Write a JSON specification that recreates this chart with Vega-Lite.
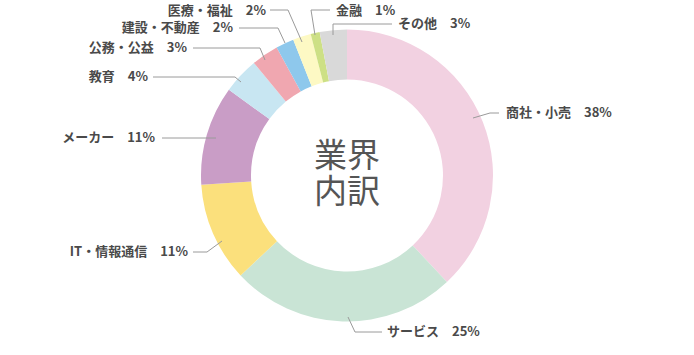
{
  "$schema": "https://vega.github.io/schema/vega-lite/v6.json",
  "width": 694,
  "height": 351,
  "autosize": {"type": "none"},
  "padding": {"left": 0, "right": 0, "top": 0, "bottom": 0},
  "background": "white",
  "config": {"view": {"stroke": null}, "font": "Noto Sans CJK JP"},
  "datasets": {
    "slices": [
      {"cat": "商社・小売", "value": 38, "ord": 1},
      {"cat": "サービス", "value": 25, "ord": 2},
      {"cat": "IT・情報通信", "value": 11, "ord": 3},
      {"cat": "メーカー", "value": 11, "ord": 4},
      {"cat": "教育", "value": 4, "ord": 5},
      {"cat": "公務・公益", "value": 3, "ord": 6},
      {"cat": "建設・不動産", "value": 2, "ord": 7},
      {"cat": "医療・福祉", "value": 2, "ord": 8},
      {"cat": "金融", "value": 1, "ord": 9},
      {"cat": "その他", "value": 3, "ord": 10}
    ],
    "leaders": [
      {"cat": "商社・小売", "seq": 1, "px": 473, "py": 118},
      {"cat": "商社・小売", "seq": 2, "px": 490, "py": 113},
      {"cat": "商社・小売", "seq": 3, "px": 499, "py": 113},
      {"cat": "サービス", "seq": 1, "px": 348, "py": 317},
      {"cat": "サービス", "seq": 2, "px": 355, "py": 332},
      {"cat": "サービス", "seq": 3, "px": 382, "py": 332},
      {"cat": "IT・情報通信", "seq": 1, "px": 222, "py": 241},
      {"cat": "IT・情報通信", "seq": 2, "px": 207, "py": 252},
      {"cat": "IT・情報通信", "seq": 3, "px": 193, "py": 252},
      {"cat": "メーカー", "seq": 1, "px": 216, "py": 138},
      {"cat": "メーカー", "seq": 2, "px": 162, "py": 138},
      {"cat": "教育", "seq": 1, "px": 241, "py": 82},
      {"cat": "教育", "seq": 2, "px": 235, "py": 77},
      {"cat": "教育", "seq": 3, "px": 153, "py": 77},
      {"cat": "公務・公益", "seq": 1, "px": 265, "py": 60},
      {"cat": "公務・公益", "seq": 2, "px": 260, "py": 48},
      {"cat": "公務・公益", "seq": 3, "px": 193, "py": 48},
      {"cat": "建設・不動産", "seq": 1, "px": 285, "py": 43},
      {"cat": "建設・不動産", "seq": 2, "px": 278, "py": 28},
      {"cat": "建設・不動産", "seq": 3, "px": 239, "py": 28},
      {"cat": "医療・福祉", "seq": 1, "px": 302, "py": 42},
      {"cat": "医療・福祉", "seq": 2, "px": 288, "py": 10},
      {"cat": "医療・福祉", "seq": 3, "px": 270, "py": 10},
      {"cat": "金融", "seq": 1, "px": 315, "py": 35},
      {"cat": "金融", "seq": 2, "px": 311, "py": 10},
      {"cat": "金融", "seq": 3, "px": 330, "py": 10},
      {"cat": "その他", "seq": 1, "px": 333, "py": 35},
      {"cat": "その他", "seq": 2, "px": 333, "py": 24},
      {"cat": "その他", "seq": 3, "px": 392, "py": 24}
    ],
    "labels": [
      {"label": "商社・小売　38%", "side": "right", "px": 506, "py": 113},
      {"label": "サービス　25%", "side": "right", "px": 387, "py": 332},
      {"label": "IT・情報通信　11%", "side": "left", "px": 188, "py": 252},
      {"label": "メーカー　11%", "side": "left", "px": 155, "py": 138},
      {"label": "教育　4%", "side": "left", "px": 148, "py": 77},
      {"label": "公務・公益　3%", "side": "left", "px": 187, "py": 48},
      {"label": "建設・不動産　2%", "side": "left", "px": 233, "py": 28},
      {"label": "医療・福祉　2%", "side": "left", "px": 266, "py": 11},
      {"label": "金融　1%", "side": "right", "px": 336, "py": 11},
      {"label": "その他　3%", "side": "right", "px": 398, "py": 24}
    ],
    "center": [{"t": "業界", "line": 1}, {"t": "内訳", "line": 2}]
  },
  "layer": [
    {
      "data": {"name": "slices"},
      "mark": {"type": "arc", "outerRadius": 146, "innerRadius": 96},
      "encoding": {
        "theta": {"field": "value", "type": "quantitative", "stack": true},
        "order": {"field": "ord", "type": "quantitative"},
        "color": {
          "field": "cat",
          "type": "nominal",
          "legend": null,
          "scale": {
            "domain": ["商社・小売", "サービス", "IT・情報通信", "メーカー", "教育", "公務・公益", "建設・不動産", "医療・福祉", "金融", "その他"],
            "range": ["#f2d1e1", "#c9e4d5", "#fbe07c", "#c99dc6", "#c8e6f2", "#f0a7b0", "#8ec8ec", "#fdf9c4", "#cde085", "#d9d9d9"]
          }
        }
      }
    },
    {
      "data": {"name": "leaders"},
      "mark": {"type": "line", "color": "#9a9a9a", "strokeWidth": 1},
      "encoding": {
        "x": {"field": "px", "type": "quantitative", "axis": null, "scale": {"domain": [0, 694], "nice": false, "zero": false}},
        "y": {"field": "py", "type": "quantitative", "axis": null, "scale": {"domain": [0, 351], "nice": false, "zero": false, "reverse": true}},
        "detail": {"field": "cat"},
        "order": {"field": "seq", "type": "quantitative"}
      }
    },
    {
      "data": {"name": "labels"},
      "transform": [{"filter": "datum.side === 'left'"}],
      "mark": {"type": "text", "align": "right", "baseline": "middle", "fontSize": 13, "fontWeight": "bold", "color": "#4a4a4a"},
      "encoding": {
        "x": {"field": "px", "type": "quantitative"},
        "y": {"field": "py", "type": "quantitative"},
        "text": {"field": "label"}
      }
    },
    {
      "data": {"name": "labels"},
      "transform": [{"filter": "datum.side === 'right'"}],
      "mark": {"type": "text", "align": "left", "baseline": "middle", "fontSize": 13, "fontWeight": "bold", "color": "#4a4a4a"},
      "encoding": {
        "x": {"field": "px", "type": "quantitative"},
        "y": {"field": "py", "type": "quantitative"},
        "text": {"field": "label"}
      }
    },
    {
      "data": {"name": "center"},
      "transform": [{"filter": "datum.line === 1"}],
      "mark": {"type": "text", "align": "center", "baseline": "middle", "fontSize": 33, "dy": -19, "color": "#555555", "fontWeight": "normal"},
      "encoding": {"text": {"field": "t"}}
    },
    {
      "data": {"name": "center"},
      "transform": [{"filter": "datum.line === 2"}],
      "mark": {"type": "text", "align": "center", "baseline": "middle", "fontSize": 33, "dy": 17, "color": "#555555", "fontWeight": "normal"},
      "encoding": {"text": {"field": "t"}}
    }
  ]
}
